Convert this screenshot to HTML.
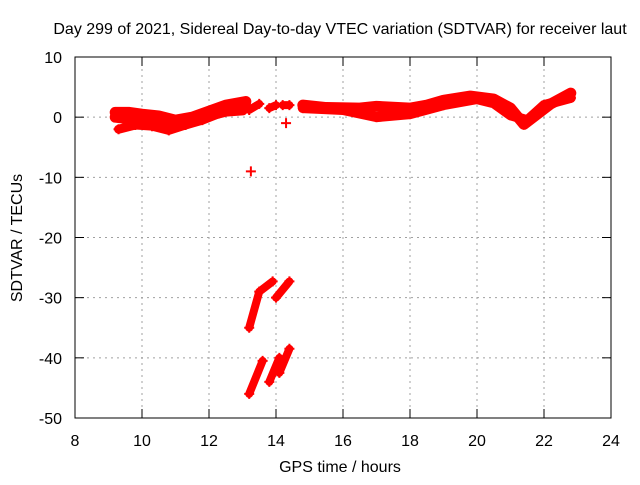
<!DOCTYPE html>
<html><head><meta charset="utf-8"><style>
body{margin:0;background:#fff}
text{font-family:"Liberation Sans",sans-serif;font-size:16px;fill:#000}
</style></head><body>
<svg id="chart" width="640" height="480" xmlns="http://www.w3.org/2000/svg">
<rect width="640" height="480" fill="#fff"/>
<text x="340" y="34" text-anchor="middle">Day 299 of 2021, Sidereal Day-to-day VTEC variation (SDTVAR) for receiver laut</text>
<text x="340" y="472" text-anchor="middle">GPS time / hours</text>
<text transform="translate(22,238) rotate(-90)" text-anchor="middle">SDTVAR / TECUs</text>
<g id="grid"></g><g id="ticks"></g><g id="marks"></g>
<rect x="75" y="57" width="536" height="361" fill="none" stroke="#000" stroke-width="1"/>
</svg>
<script>
const xTicks=[8,10,12,14,16,18,20,22,24];
const yTicks=[10,0,-10,-20,-30,-40,-50];
const seriesUpper=[[9.2,0.8],[9.6,0.8],[10,0.5],[10.5,0.2],[11,-0.5],[11.5,0],[12,1],[12.5,2],[13.1,2.6]];
const seriesMid=[[9.2,0],[10,-0.5],[10.5,-0.8],[11,-1.5],[11.5,-0.5],[12,0.3],[12.5,1],[13,1.2]];
const seriesLower=[[9.3,-2],[9.8,-1.3],[10.3,-1.5],[10.8,-2.2],[11.3,-1.3],[11.8,-0.5],[12.3,0.6],[12.8,1.5],[13.1,2.2]];
const seriesSeg1=[[13.2,1.2],[13.5,2.2]];
const seriesSeg2=[[13.8,1.5],[14,2]];
const seriesSeg3=[[14.2,2],[14.4,2]];
const seriesOutliers=[[14.3,-1],[13.25,-9]];
const seriesRightA=[[14.8,2],[15.5,1.6],[16.5,1.5],[17,1.8],[18,1.5],[18.5,2],[19,2.8],[19.8,3.5],[20.5,3],[21,1.5],[21.4,-1.2],[21.8,0.5],[22.2,2.2],[22.8,4]];
const seriesRightB=[[14.8,1.5],[16,1.2],[17,0],[18,0.5],[19,2],[20,3],[20.5,2.3],[21,0.3],[21.5,-0.5],[22,2],[22.8,3.2]];
const seriesDrop1=[[13.2,-35],[13.5,-29],[13.9,-27.3]];
const seriesDrop2=[[14,-30],[14.4,-27.3]];
const seriesDrop3=[[13.2,-46],[13.6,-40.5]];
const seriesDrop4=[[13.8,-44],[14.1,-40]];
const seriesDrop5=[[14.1,-42.5],[14.4,-38.5]];
const NS='http://www.w3.org/2000/svg';
const X=v=>75+(v-8)*536/16, Y=v=>57+(10-v)*361/60;
const grid=document.getElementById('grid'),ticks=document.getElementById('ticks'),marks=document.getElementById('marks');
function mk(t,a,p){const e=document.createElementNS(NS,t);for(const k in a)e.setAttribute(k,a[k]);p.appendChild(e);return e;}
xTicks.forEach(v=>{const x=X(v);
 if(v>8&&v<24){const g=mk('line',{x1:x,x2:x,y1:57,y2:418,stroke:'#a0a0a0','stroke-dasharray':'2,4'},grid);
 
 }
 mk('line',{x1:x,x2:x,y1:418,y2:409,stroke:'#000'},ticks);mk('line',{x1:x,x2:x,y1:57,y2:66,stroke:'#000'},ticks);
 const t=mk('text',{x:x,y:446,'text-anchor':'middle'},ticks);t.textContent=v;
 
 });
yTicks.forEach(v=>{const y=Y(v);
 if(v<10&&v>-50){const g=mk('line',{x1:75,x2:611,y1:y,y2:y,stroke:'#a0a0a0','stroke-dasharray':'2,4'},grid);
 
 }
 mk('line',{x1:75,x2:84,y1:y,y2:y,stroke:'#000'},ticks);mk('line',{x1:611,x2:602,y1:y,y2:y,stroke:'#000'},ticks);
 const t=mk('text',{x:62,y:y+6,'text-anchor':'end'},ticks);t.textContent=v;
 
 });
function band(data,w){
 const p=mk('polyline',{points:data.map(d=>X(d[0])+','+Y(d[1])).join(' '),fill:'none',stroke:'#ff0000','stroke-width':w,'stroke-linejoin':'round','stroke-linecap':'round'},marks);
 
 
 data.forEach(d=>{const x=X(d[0]),y=Y(d[1]);
  const m=mk('path',{d:`M${x-5},${y}h10M${x},${y-5}v10`,stroke:'#ff0000','stroke-width':2},marks);
  
  });
}
band(seriesUpper,11);band(seriesMid,11);band(seriesLower,9);
band(seriesSeg1,8);band(seriesSeg2,8);band(seriesSeg3,8);
band(seriesRightA,11);band(seriesRightB,10);
band(seriesDrop1,8);band(seriesDrop2,8);band(seriesDrop3,8);band(seriesDrop4,8);band(seriesDrop5,8);
seriesOutliers.forEach(d=>band([d],7));
</script>
</body></html>
